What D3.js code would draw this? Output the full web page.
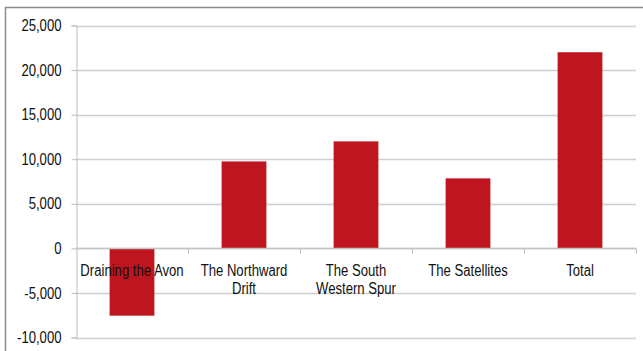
<!DOCTYPE html>
<html><head><meta charset="utf-8">
<script src="https://cdn.jsdelivr.net/npm/d3@7"></script>
<style>body{margin:0;background:#fff;}svg{display:block;font-family:"Liberation Sans",Arial,sans-serif;}</style>
</head><body><svg id="c" width="643" height="351"></svg>
<script>
const categories = [["Draining the Avon"],["The Northward","Drift"],["The South","Western Spur"],["The Satellites"],["Total"]];
const values = [-7550, 9750, 12000, 7850, 22000];
const yTicks = [-10000,-5000,0,5000,10000,15000,20000,25000];

(function(){
const svg = d3.select("#c");
const FONT = "Liberation Sans, Arial, sans-serif";
const SX = 0.82; // condensed look
// outer border
svg.append("path").attr("d","M5.5,351 V7.5 H643").attr("fill","none").attr("stroke","#8c8c8c").attr("stroke-width",1.5);

const pL=76, pR=636, pT=25.5, pB=337.5;
const x = d3.scaleBand().domain(d3.range(values.length)).range([pL,pR]).paddingInner(0.6).paddingOuter(0.3);
const xb = d3.scaleBand().domain(d3.range(values.length)).range([pL,pR]);
const y = d3.scaleLinear().domain([-10000,25000]).range([pB,pT]);
const fmt = d3.format(",");

// gridlines
svg.append("g").selectAll("line").data(yTicks).join("line")
  .attr("x1",pL).attr("x2",pR).attr("y1",d=>Math.round(y(d))+0.5).attr("y2",d=>Math.round(y(d))+0.5)
  .attr("stroke","#cfcfcf").attr("stroke-width",1.5);

// y axis
const ya = svg.append("g").attr("transform",`translate(${pL+0.5},0)`)
  .call(d3.axisLeft(y).tickValues(yTicks).tickSize(5).tickPadding(15).tickFormat(d=>fmt(d).replace("\u2212","-")));
ya.select(".domain").attr("stroke","#bdbdbd");
ya.selectAll(".tick line").attr("stroke","#bdbdbd");
ya.selectAll(".tick text").attr("font-size","16px").attr("fill","#111").attr("font-family",FONT)
  .attr("x",-15/SX).attr("transform",`scale(${SX},1)`);

// bars
svg.append("g").selectAll("rect").data(values).join("rect")
  .attr("x",(d,i)=>x(i)).attr("width",x.bandwidth())
  .attr("y",d=>y(Math.max(0,d))).attr("height",d=>Math.abs(y(d)-y(0)))
  .attr("fill","#be1520");

// zero axis with category ticks
const y0 = Math.round(y(0))+0.5;
svg.append("line").attr("x1",pL).attr("x2",pR).attr("y1",y0).attr("y2",y0).attr("stroke","#c4c4c4").attr("stroke-width",1.5);
svg.append("g").selectAll("line").data(d3.range(values.length)).join("line")
  .attr("x1",i=>Math.round(xb(i)+xb.bandwidth())+0.5).attr("x2",i=>Math.round(xb(i)+xb.bandwidth())+0.5)
  .attr("y1",y0).attr("y2",y0+5).attr("stroke","#bdbdbd");

// category labels
const lab = svg.append("g").selectAll("g").data(categories).join("g")
  .attr("transform",(d,i)=>`translate(${xb(i)+xb.bandwidth()/2},${y0+27}) scale(${SX},1)`)
  .append("text").attr("text-anchor","middle").attr("font-size","16px").attr("fill","#111").attr("font-family",FONT);
lab.selectAll("tspan").data(d=>d).join("tspan")
  .attr("x",0).attr("dy",(d,i)=>i?19:0).text(d=>d);
})();
</script></body></html>
